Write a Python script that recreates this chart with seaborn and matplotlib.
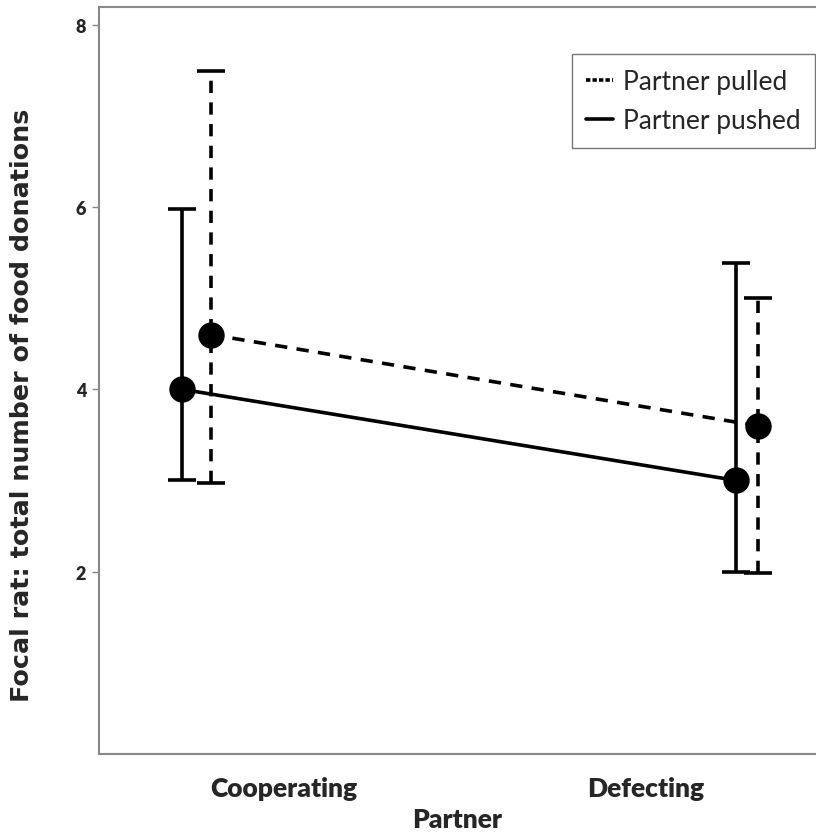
import pandas as pd
import matplotlib
matplotlib.use("Agg")
import matplotlib.pyplot as plt
import seaborn as sns

# data
partner = ["Cooperating", "Defecting"]
groups = ["Partner pulled", "Partner pushed"]
pulled_mean = [4.6, 3.6]
pulled_low = [2.97, 1.98]
pulled_high = [7.49, 5.0]
pushed_mean = [4.0, 3.0]
pushed_low = [3.0, 2.0]
pushed_high = [5.98, 5.39]
y_ticks = [2, 4, 6, 8]

# horizontal placement of each group around the category centre
offsets = {"Partner pulled": [-0.20, 0.31], "Partner pushed": [-0.28, 0.25]}
dash_style = {"Partner pulled": (3.4, 2.6), "Partner pushed": ""}

rows = []
for g, mean, lo, hi in [("Partner pulled", pulled_mean, pulled_low, pulled_high),
                        ("Partner pushed", pushed_mean, pushed_low, pushed_high)]:
    for i, p in enumerate(partner):
        rows.append({"partner": p, "group": g, "x": i + offsets[g][i],
                     "mean": mean[i], "low": lo[i], "high": hi[i]})
df = pd.DataFrame(rows)

sns.set_style("white")
fig = plt.figure(figsize=(8.16, 8.37), dpi=100)
ax = fig.add_axes([0.121, 0.098, 0.879, 0.892])

sns.lineplot(data=df, x="x", y="mean", style="group", style_order=groups,
             dashes=dash_style, color="black", linewidth=2.6,
             marker="o", markersize=19, markeredgewidth=0, ax=ax, legend=False)

for g in groups:
    sub = df[df["group"] == g]
    eb = ax.errorbar(sub["x"], sub["mean"],
                     yerr=[sub["mean"] - sub["low"], sub["high"] - sub["mean"]],
                     fmt="none", ecolor="black", elinewidth=2.6, capsize=10,
                     capthick=2.6)
    if g == "Partner pulled":
        for lc in eb[2]:
            lc.set_linestyle((0, (3.4, 2.6)))

ax.set_xlim(-0.51, 1.47)
ax.set_ylim(0, 8.19)
ax.set_yticks(y_ticks)
ax.set_yticklabels([str(t) for t in y_ticks], fontfamily="Lato",
                   fontweight="heavy", fontsize=13)
ax.set_xticks([0, 1])
ax.set_xticklabels(partner, fontfamily="Lato", fontweight="heavy", fontsize=19)
ax.tick_params(axis="x", length=0, pad=16)
ax.tick_params(axis="y", length=5, width=1, color="#888888", left=True, pad=4)
ax.set_xlabel("Partner", fontfamily="Lato", fontweight="heavy", fontsize=19,
              labelpad=5)
ax.set_ylabel("Focal rat: total number of food donations",
              fontfamily="DejaVu Sans", fontweight="bold", fontsize=18.3,
              labelpad=24)
ax.yaxis.set_label_coords(-0.09, 0.468)
ax.spines["right"].set_visible(False)
for s in ax.spines.values():
    s.set_color("#888888")
    s.set_linewidth(1.5)

handles = [plt.Line2D([], [], color="black", lw=2.6, linestyle=(0, (1.2, 0.6))),
           plt.Line2D([], [], color="black", lw=2.6)]
leg = ax.legend(handles, groups, loc="upper right",
                bbox_to_anchor=(0.999, 0.937), handlelength=1.0,
                handletextpad=0.4, borderpad=0.55, labelspacing=0.55,
                borderaxespad=0, prop={"family": "Lato", "size": 19},
                frameon=True, fancybox=False)
leg.get_frame().set_edgecolor("#555555")
leg.get_frame().set_linewidth(1.0)

fig.savefig("out.png", dpi=100)
